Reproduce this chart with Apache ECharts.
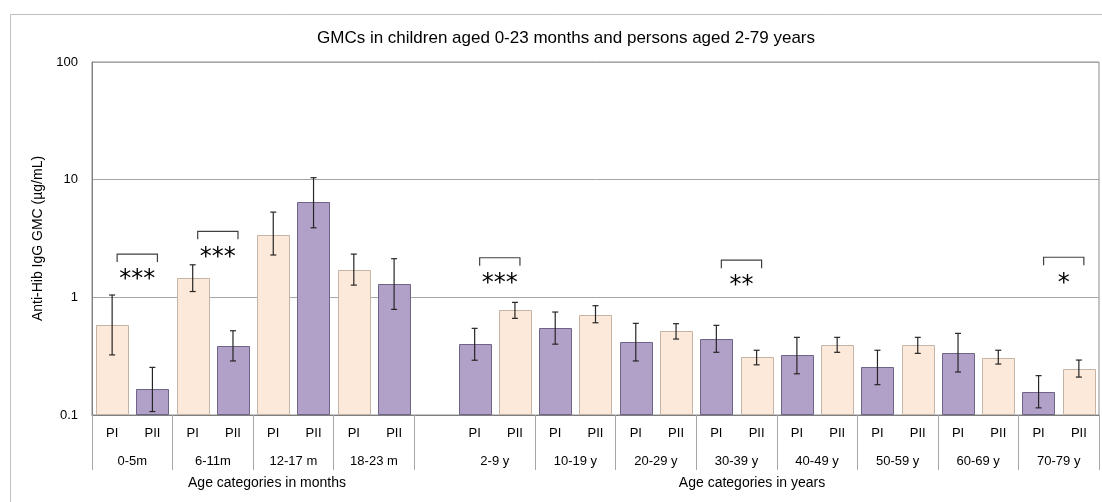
<!DOCTYPE html>
<html>
<head>
<meta charset="utf-8">
<script src="https://cdn.jsdelivr.net/npm/echarts@6/dist/echarts.min.js"></script>
<style>html,body{margin:0;padding:0;background:#fff;}#c{width:1102px;height:502px;}</style>
</head>
<body>
<div id="c"></div>
<script>
// ---- data ----
const monthGroups = ['0-5m', '6-11m', '12-17 m', '18-23 m'];
const yearGroups = ['2-9 y', '10-19 y', '20-29 y', '30-39 y', '40-49 y', '50-59 y', '60-69 y', '70-79 y'];
const periods = ['PI', 'PII'];
const piGMC   = [0.58, 1.45, 3.40, 1.70, 0.40, 0.545, 0.415, 0.442, 0.324, 0.254, 0.334, 0.158];
const piLow   = [0.324, 1.12, 2.29, 1.27, 0.292, 0.40, 0.288, 0.341, 0.224, 0.181, 0.232, 0.115];
const piHigh  = [1.046, 1.89, 5.3, 2.33, 0.545, 0.75, 0.601, 0.578, 0.457, 0.355, 0.494, 0.216];
const piiGMC  = [0.166, 0.383, 6.41, 1.29, 0.775, 0.711, 0.514, 0.309, 0.391, 0.391, 0.307, 0.246];
const piiLow  = [0.107, 0.288, 3.90, 0.79, 0.663, 0.608, 0.442, 0.267, 0.341, 0.334, 0.271, 0.210];
const piiHigh = [0.254, 0.52, 10.4, 2.13, 0.906, 0.849, 0.597, 0.355, 0.457, 0.457, 0.355, 0.293];
const sigGroups = ['0-5m', '6-11m', '2-9 y', '30-39 y', '70-79 y'];
const sigMarks  = ['***', '***', '***', '**', '*'];
const sigLevel  = [2.33, 3.64, 2.17, 2.07, 2.19];
const yTicks = [0.1, 1, 10, 100];

// ---- build slots ----
const groups = monthGroups.concat(yearGroups);
const slotLabels = [], barData = [], errData = [], groupStart = {};
let slot = 0;
groups.forEach((g, i) => {
  if (i === monthGroups.length) { slotLabels.push(''); slot++; }
  groupStart[g] = slot;
  const isYear = i >= monthGroups.length;
  const vals = [[piGMC[i], piLow[i], piHigh[i]], [piiGMC[i], piiLow[i], piiHigh[i]]];
  vals.forEach((v, k) => {
    slotLabels.push(periods[k]);
    const peach = isYear ? k === 1 : k === 0;
    barData.push([slot, v[0], peach ? 0 : 1]);
    errData.push([slot, v[1], v[2]]);
    slot++;
  });
});
const nSlots = slot;
const boundaries = [0];
groups.forEach((g, i) => {
  if (i === monthGroups.length) boundaries.push(groupStart[g] - 1);
  boundaries.push(groupStart[g] + 2);
});
const groupCenters = groups.map(g => groupStart[g] + 1);
const sigData = sigGroups.map((g, i) => [groupStart[g], sigLevel[i], i]);

const barStyles = [
  { fill: '#FDE9D9', stroke: '#C4B4A6', lineWidth: 1 },
  { fill: '#B1A0C7', stroke: '#6E6485', lineWidth: 1 }
];

const chart = echarts.init(document.getElementById('c'), null, { renderer: 'canvas' });
const font = 'Liberation Sans';
chart.setOption({
  animation: false,
  title: {
    text: 'GMCs in children aged 0-23 months and persons aged 2-79 years',
    left: 561, top: 25, textAlign: 'center',
    textStyle: { fontFamily: font, fontSize: 17, fontWeight: 'normal', color: '#000' }
  },
  graphic: [
    { type: 'rect', shape: { x: 10.5, y: 14.5, width: 1110, height: 500 }, style: { fill: null, stroke: '#BFBFBF', lineWidth: 1 }, silent: true },
    { type: 'text', x: 267, y: 483, style: { text: 'Age categories in months', fontFamily: font, fontSize: 14, fill: '#000', align: 'center', verticalAlign: 'middle' } },
    { type: 'text', x: 752, y: 483, style: { text: 'Age categories in years', fontFamily: font, fontSize: 14, fill: '#000', align: 'center', verticalAlign: 'middle' } }
  ],
  grid: { left: 92, top: 62, right: 3, bottom: 87, show: true, borderColor: '#8C8C8C', borderWidth: 1, containLabel: false },
  xAxis: [
    {
      type: 'category', data: slotLabels, position: 'bottom',
      axisLine: { show: true, lineStyle: { color: '#7F7F7F' } },
      axisTick: { show: false },
      axisLabel: { interval: 0, margin: 12, fontFamily: font, fontSize: 13, color: '#000' },
      splitLine: { show: false }
    },
    {
      type: 'value', min: 0, max: nSlots, position: 'bottom',
      axisLine: { show: false },
      axisTick: { show: true, customValues: boundaries, length: 55, lineStyle: { color: '#A6A6A6' } },
      axisLabel: {
        show: true, customValues: groupCenters, margin: 40,
        fontFamily: font, fontSize: 13, color: '#000',
        formatter: v => groups[groupCenters.indexOf(v)] || ''
      },
      splitLine: { show: false }
    }
  ],
  yAxis: {
    type: 'log', logBase: 10, min: 0.1, max: 100,
    name: 'Anti-Hib IgG GMC (µg/mL)', nameLocation: 'middle', nameGap: 46, nameRotate: 90,
    nameTextStyle: { fontFamily: font, fontSize: 14, color: '#000' },
    axisLine: { show: true, lineStyle: { color: '#7F7F7F' } },
    axisTick: { show: false },
    axisLabel: { margin: 14, fontFamily: font, fontSize: 13, color: '#000',
      formatter: v => { const t = yTicks.find(x => Math.abs(x - v) / x < 1e-6); return t === undefined ? '' : String(t); } },
    splitLine: { show: true, lineStyle: { color: '#A6A6A6' } }
  },
  series: [
    {
      type: 'custom', xAxisIndex: 0, data: barData, z: 3,
      renderItem: (params, api) => {
        const top = api.coord([api.value(0), api.value(1)]);
        const base = api.coord([api.value(0), yTicks[0]]);
        const w = api.size([1, 0])[0] * 0.8;
        return { type: 'rect', shape: { x: Math.round(top[0] - w / 2) + 0.5, y: Math.round(top[1]) + 0.5, width: Math.round(w), height: Math.round(base[1] - top[1]) - 1 },
          style: barStyles[api.value(2)] };
      }
    },
    {
      type: 'custom', xAxisIndex: 0, data: errData, z: 5,
      renderItem: (params, api) => {
        const lo = api.coord([api.value(0), api.value(1)]);
        const hi = api.coord([api.value(0), api.value(2)]);
        const x = lo[0], w = 3;
        const st = { stroke: '#262626', lineWidth: 1.2 };
        return { type: 'group', children: [
          { type: 'line', shape: { x1: x, y1: lo[1], x2: x, y2: hi[1] }, style: st },
          { type: 'line', shape: { x1: x - w, y1: lo[1], x2: x + w, y2: lo[1] }, style: st },
          { type: 'line', shape: { x1: x - w, y1: hi[1], x2: x + w, y2: hi[1] }, style: st }
        ] };
      }
    },
    {
      type: 'custom', xAxisIndex: 0, data: sigData, z: 6,
      renderItem: (params, api) => {
        const a = api.coord([api.value(0), api.value(1)]);
        const b = api.coord([api.value(0) + 1, api.value(1)]);
        const off = 5, d = 8;
        const x1 = a[0] + off, x2 = b[0] + off, y = a[1];
        const st = { stroke: '#404040', lineWidth: 1.2, fill: null };
        return { type: 'group', children: [
          { type: 'polyline', shape: { points: [[x1, y + d], [x1, y], [x2, y], [x2, y + d]] }, style: st },
          { type: 'text', x: (x1 + x2) / 2, y: y + 26, style: { text: sigMarks[api.value(2)], fontFamily: 'DejaVu Sans', fontSize: 24, fill: '#000', align: 'center', verticalAlign: 'middle' } }
        ] };
      }
    }
  ]
});
</script>
</body>
</html>
